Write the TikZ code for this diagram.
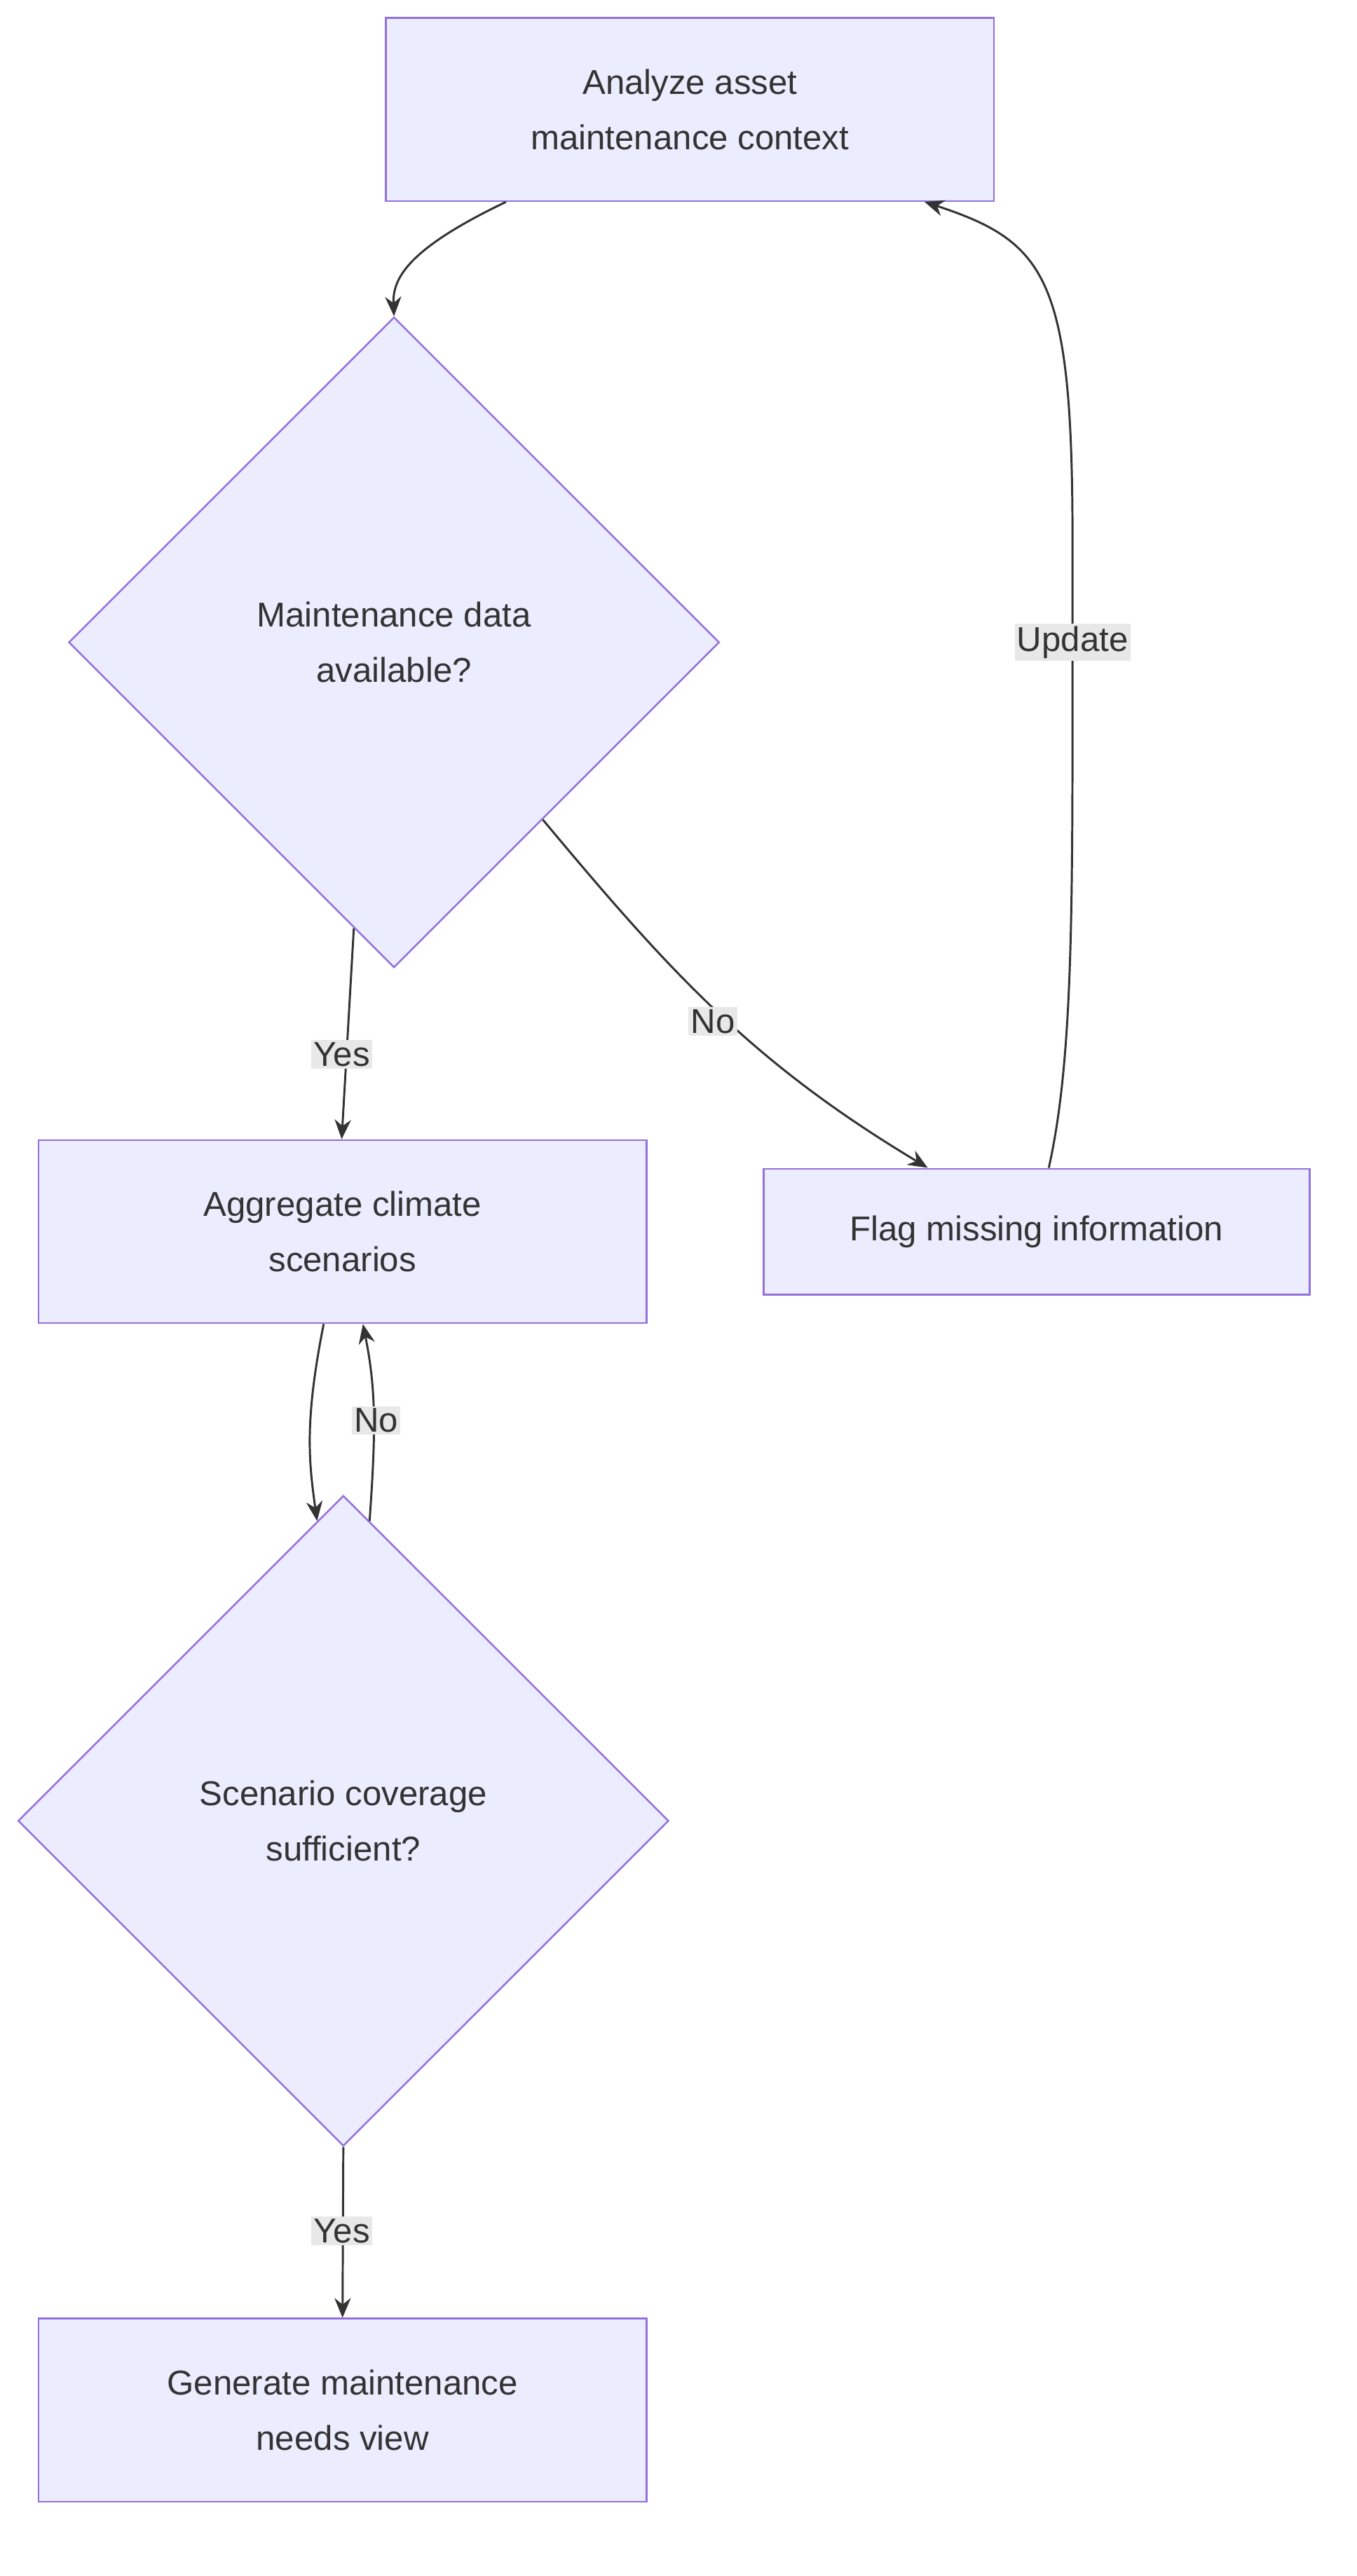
\documentclass[tikz,border=0pt]{standalone}
\usepackage{fontspec}
\setmainfont{Liberation Sans}
\usetikzlibrary{shapes.geometric,arrows.meta,calc}
\definecolor{nfill}{HTML}{ECECFF}
\definecolor{nline}{HTML}{9370DB}
\definecolor{ink}{HTML}{333333}
\definecolor{lbg}{HTML}{E8E8E8}
\begin{document}
\begin{tikzpicture}[x=0.05cm,y=-0.05cm,
  every node/.style={font=\fontsize{30}{48}\selectfont, text=ink},
  box/.style={draw=nline, line width=1.5pt, fill=nfill, rectangle, minimum width=18.6cm, minimum height=5.6cm, align=center},
  dia/.style={draw=nline, line width=1.5pt, fill=nfill, diamond, minimum width=19.9cm, minimum height=19.9cm, inner sep=0pt, align=center},
  edge/.style={draw=ink, line width=1.8pt, -{Stealth[length=0.6cm,width=0.5cm]}},
  lbl/.style={fill=lbg, inner sep=2pt}]
\useasboundingbox (0,0) rectangle (830,1576);
\node[box] (a) at (422,67) {Analyze asset\\maintenance context};
\node[dia] (d1) at (241,393) {Maintenance data\\available?};
\node[box] (b) at (209.5,753.5) {Aggregate climate\\scenarios};
\node[box, minimum width=16.7cm, minimum height=3.85cm] (f) at (634,753.5) {Flag missing information};
\node[dia] (d2) at (210,1114) {Scenario coverage\\sufficient?};
\node[box] (g) at (209.5,1474.5) {Generate maintenance\\needs view};

\draw[edge] ($(a.south west)+(74,0)$) .. controls (250,152) and (240,170) .. (d1.north);
\draw[edge] (d1.262.6) -- ($(b.north west)+(186,0)$);
\node[lbl] (l1) at (209,645) {Yes};
\draw[edge] (d1.310) .. controls (410,595) and (460,650) .. ($(f.north west)+(101,0)$);
\node[lbl] (l2) at (436,625) {No};
\draw[edge] ($(f.north west)+(175,0)$) .. controls (656,650) and (656,560) .. (656,420) -- (656,330) .. controls (656,170) and (640,148) .. ($(a.south east)+(-43,0)$);
\node[lbl] (l3) at (656,393) {Update};
\draw[edge] ($(b.south west)+(175,0)$) .. controls (186,870) and (189,895) .. (d2.95.3);
\draw[edge] (d2.85.3) .. controls (230,875) and (230,850) .. ($(b.south west)+(199,0)$);
\node[lbl] (l4) at (230,869) {No};
\draw[edge] (d2.south) -- (g.north);
\node[lbl] (l5) at (209,1365) {Yes};
\end{tikzpicture}
\end{document}
